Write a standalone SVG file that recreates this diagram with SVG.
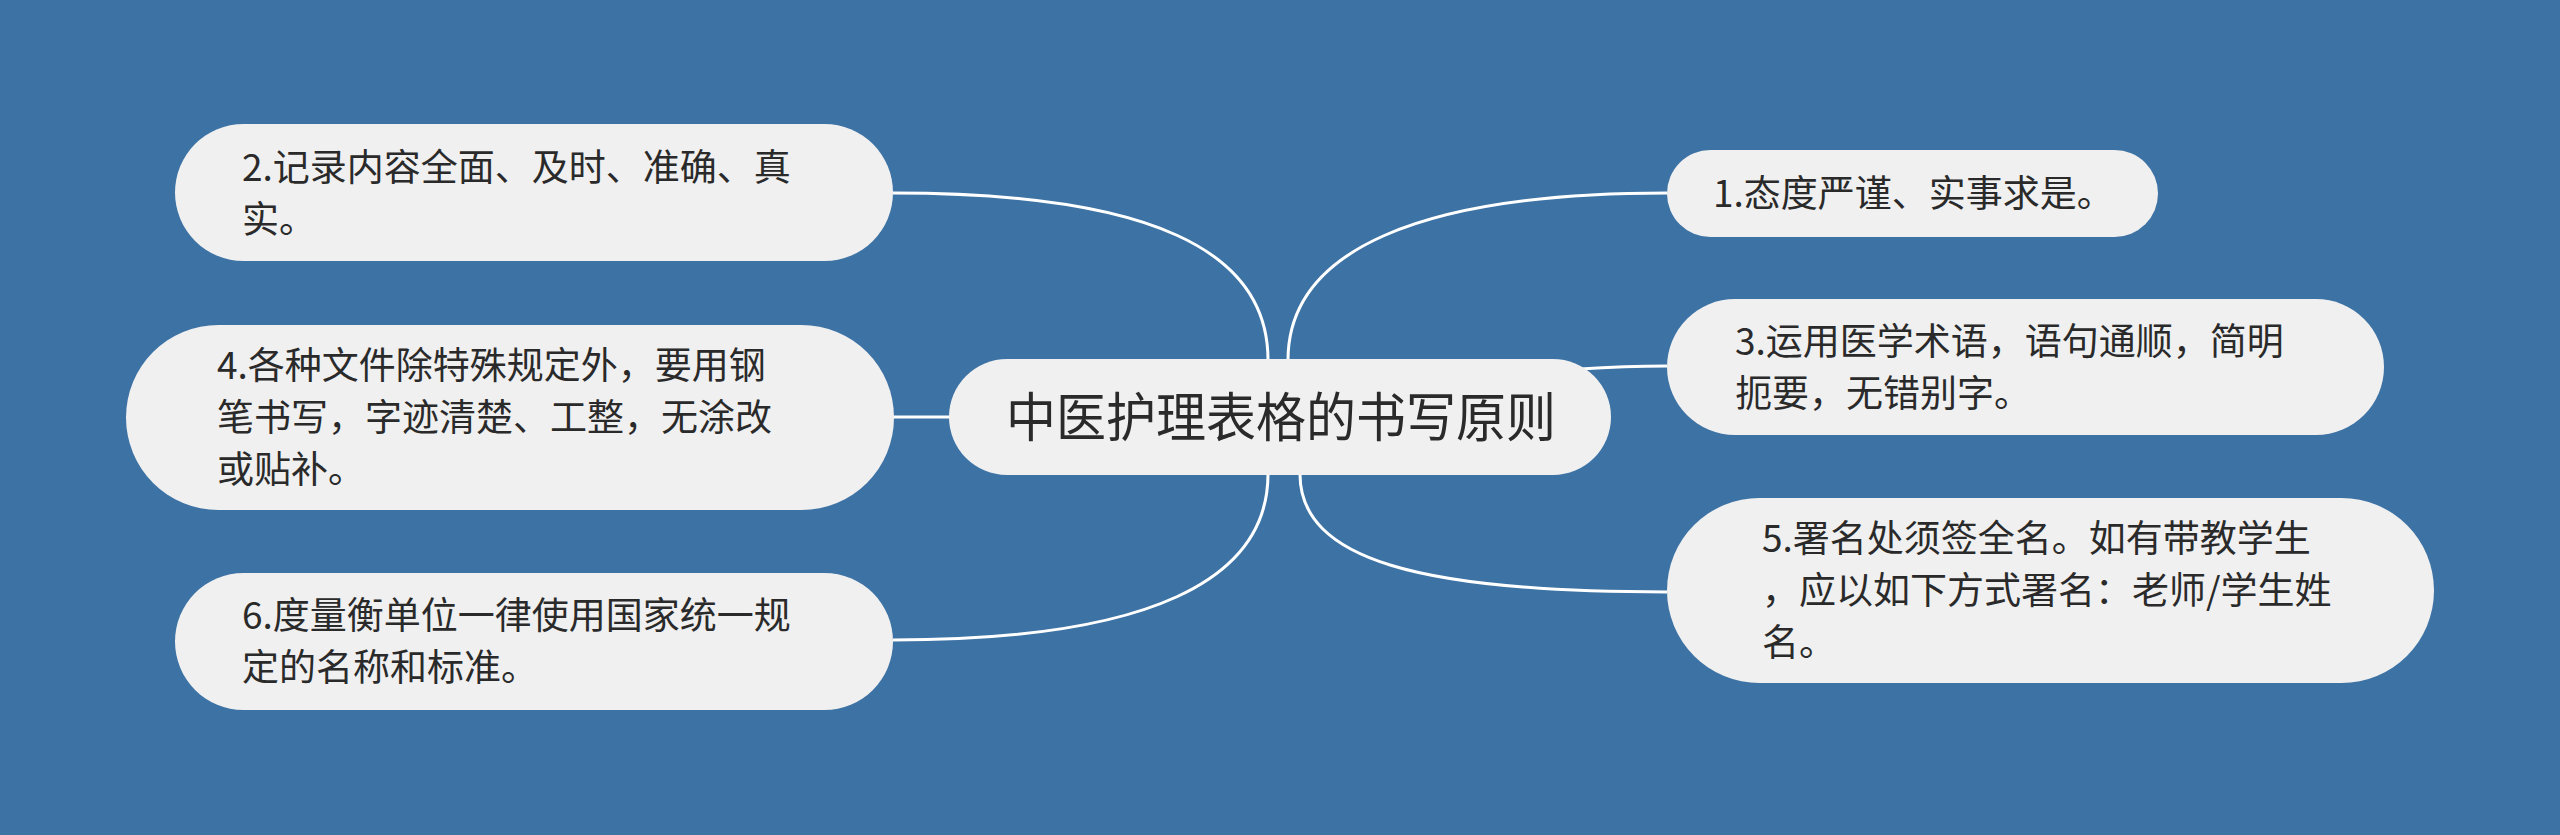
<svg xmlns="http://www.w3.org/2000/svg" width="2560" height="835" viewBox="0 0 2560 835">
<style>
.bg{fill:#3d72a4}
.node{fill:#f0f0f0}
.t{font-family:"Noto Sans CJK SC","Noto Sans",sans-serif;fill:#2a2a2a;font-size:37px}
.tc{font-family:"Noto Sans CJK SC","Noto Sans",sans-serif;fill:#2a2a2a;font-size:53px}
.edge{fill:none;stroke:#ffffff;stroke-width:3}
</style>
<rect class="bg" x="0" y="0" width="2560" height="835"/>
<g id="connectors">
<path class="edge" d="M1268 360 C1268 250 1150 193 893 193"/>
<path class="edge" d="M1288 360 C1288 250 1420 193 1667 193"/>
<path class="edge" d="M1580 369 C1610 367 1630 366 1667 366"/>
<path class="edge" d="M893 417 L950 417"/>
<path class="edge" d="M1300 474 C1300 560 1420 592 1667 592"/>
<path class="edge" d="M1268 474 C1268 580 1150 640 893 640"/>
</g>
<g id="center">
<rect class="node" x="949" y="359" width="662" height="116" rx="58"/>
<text class="tc" x="1006" y="437" textLength="550" lengthAdjust="spacingAndGlyphs">中医护理表格的书写原则</text>
</g>
<g id="n2">
<rect class="node" x="175" y="124" width="718" height="137" rx="68.5"/>
<text class="t" x="242" y="181">2.记录内容全面、及时、准确、真</text>
<text class="t" x="242" y="233">实。</text>
</g>
<g id="n4">
<rect class="node" x="126" y="325" width="768" height="185" rx="92.5"/>
<text class="t" x="217" y="379">4.各种文件除特殊规定外，要用钢</text>
<text class="t" x="217" y="431">笔书写，字迹清楚、工整，无涂改</text>
<text class="t" x="217" y="483">或贴补。</text>
</g>
<g id="n6">
<rect class="node" x="175" y="573" width="718" height="137" rx="68.5"/>
<text class="t" x="242" y="629">6.度量衡单位一律使用国家统一规</text>
<text class="t" x="242" y="681">定的名称和标准。</text>
</g>
<g id="n1">
<rect class="node" x="1667" y="150" width="491" height="87" rx="43.5"/>
<text class="t" x="1713" y="207">1.态度严谨、实事求是。</text>
</g>
<g id="n3">
<rect class="node" x="1667" y="299" width="717" height="136" rx="68"/>
<text class="t" x="1735" y="355">3.运用医学术语，语句通顺，简明</text>
<text class="t" x="1735" y="407">扼要，无错别字。</text>
</g>
<g id="n5">
<rect class="node" x="1667" y="498" width="767" height="185" rx="92.5"/>
<text class="t" x="1762" y="552">5.署名处须签全名。如有带教学生</text>
<text class="t" x="1762" y="604">，应以如下方式署名：老师/学生姓</text>
<text class="t" x="1762" y="656">名。</text>
</g>
</svg>
